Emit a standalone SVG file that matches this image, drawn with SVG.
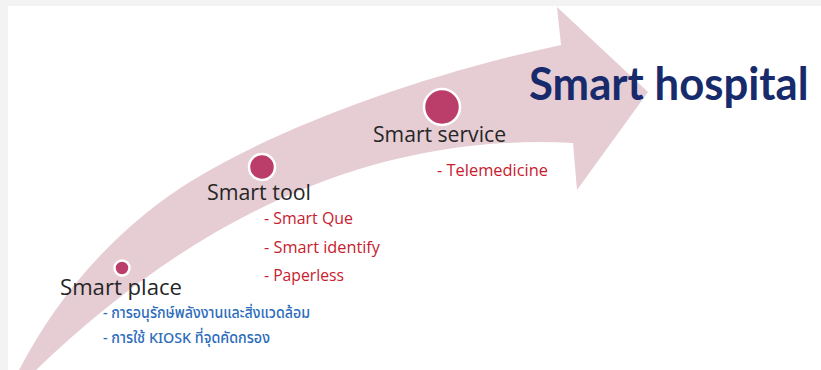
<svg xmlns="http://www.w3.org/2000/svg" width="821" height="370" viewBox="0 0 821 370">
  <style>
    .lbl { font-family: "Open Sans", "Noto Sans", "Liberation Sans", sans-serif; font-size: 22px; fill: #262626; }
    .red { font-family: "Open Sans", "Noto Sans", "Liberation Sans", sans-serif; font-size: 15.5px; font-weight: 500; fill: #c8202e; }
    .blue { font-family: "Noto Sans Thai", "Noto Sans", "DejaVu Sans", sans-serif; font-size: 15px; font-weight: 500; fill: #2c6cbc; }
    .title { font-family: Lato, "Liberation Sans", sans-serif; font-size: 46px; font-weight: bold; fill: #172a6b; }
    .dot { fill: #bb3e6a; stroke: #ffffff; stroke-width: 2.5; }
  </style>
  <rect x="0" y="0" width="821" height="370" fill="#ffffff"/>
  <rect x="0" y="0" width="821" height="6" fill="#f3f3f3"/>
  <rect x="0" y="0" width="8" height="370" fill="#f3f3f3"/>

  <g id="connectors">
    <path d="M 18 372 C 55 300 113 229 193 180 C 280 127 420 75 561 45 L 557 7 L 648 92 L 577 190 L 573 143 C 330 130 150 260 34 372 Z" fill="#e6cdd4"/>
  </g>

  <g id="place">
    <circle class="dot" cx="122" cy="268" r="7.5"/>
    <text class="lbl" x="60" y="295" textLength="122" lengthAdjust="spacingAndGlyphs">Smart place</text>
    <text class="blue" x="103" y="318" textLength="207" lengthAdjust="spacingAndGlyphs">- การอนุรักษ์พลังงานและสิ่งแวดล้อม</text>
    <text class="blue" x="103" y="343" textLength="167" lengthAdjust="spacingAndGlyphs">- การใช้ KIOSK ที่จุดคัดกรอง</text>
  </g>

  <g id="tool">
    <circle class="dot" cx="262" cy="167" r="13"/>
    <text class="lbl" x="207" y="200" textLength="104" lengthAdjust="spacingAndGlyphs">Smart tool</text>
    <text class="red" x="264" y="224" textLength="89" lengthAdjust="spacingAndGlyphs">- Smart Que</text>
    <text class="red" x="264" y="253" textLength="116" lengthAdjust="spacingAndGlyphs">- Smart identify</text>
    <text class="red" x="264" y="281" textLength="80" lengthAdjust="spacingAndGlyphs">- Paperless</text>
  </g>

  <g id="service">
    <circle class="dot" cx="442" cy="107" r="18"/>
    <text class="lbl" x="373" y="142" textLength="133" lengthAdjust="spacingAndGlyphs">Smart service</text>
    <text class="red" x="437" y="176" textLength="111" lengthAdjust="spacingAndGlyphs">- Telemedicine</text>
  </g>

  <g id="hospital">
    <text class="title" transform="translate(529,100) scale(0.95,1)" x="0" y="0">Smart hospital</text>
  </g>
</svg>
